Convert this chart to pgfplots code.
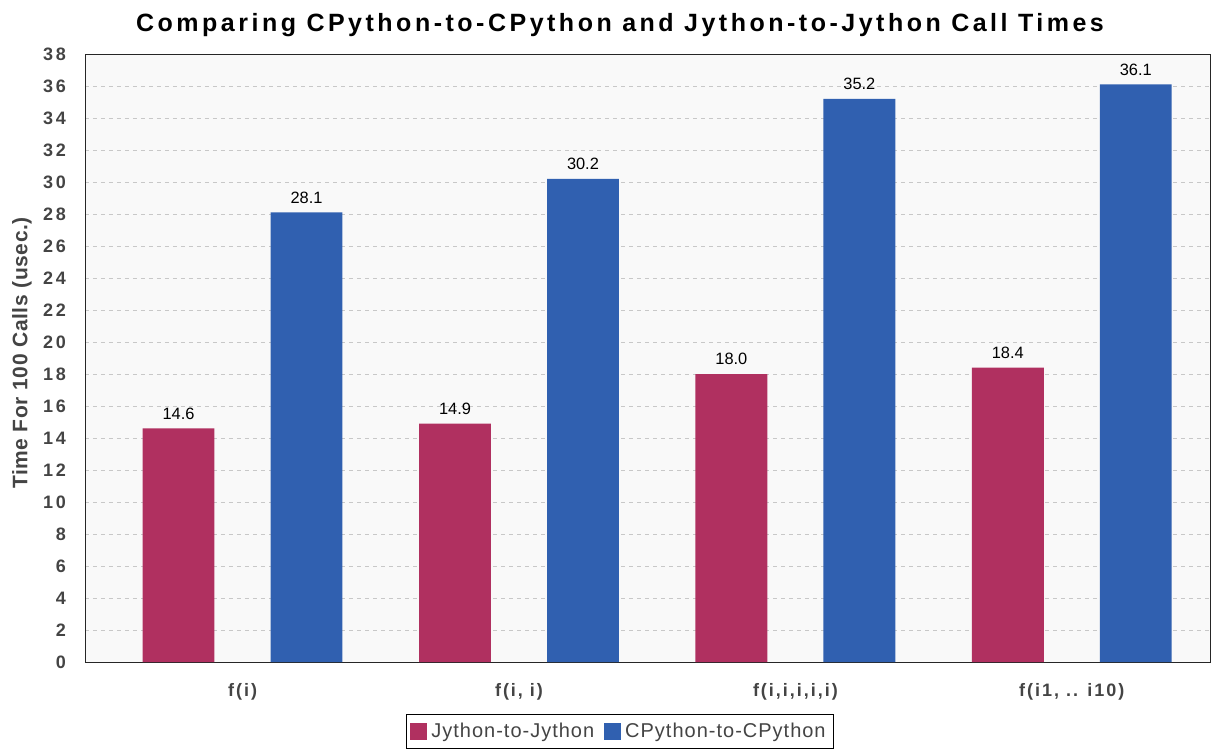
\documentclass[border=0pt]{standalone}
\usepackage{fontspec}
\setmainfont{Liberation Sans}
\newfontfamily\titlesf[LetterSpace=14]{Liberation Sans}
\newfontfamily\ylabsf[LetterSpace=3]{Liberation Sans}
\newfontfamily\ytksf[LetterSpace=16]{Liberation Sans}
\newfontfamily\xtksf[LetterSpace=11]{Liberation Sans}
\newfontfamily\legsf[LetterSpace=5]{Liberation Sans}
\usepackage{pgfplots}
\pgfplotsset{compat=1.18}
\definecolor{jyred}{RGB}{176,48,96}
\definecolor{cpblue}{RGB}{48,96,176}
\definecolor{txtgray}{RGB}{68,68,68}
\definecolor{bggray}{RGB}{249,249,249}
\definecolor{gridgray}{RGB}{200,200,200}

\begin{document}
\begin{tikzpicture}
\useasboundingbox (-42.5pt,-45pt) rectangle (567.5pt,331pt);
\begin{axis}[
    at={(0,0)}, anchor=south west,
    scale only axis, width=562.5pt, height=304pt,
    xmin=-0.57, xmax=3.5, ymin=0, ymax=38,
    ytick={0,2,...,38},
    xtick={0,1,2,3},
    xticklabels={f(i), {f(i, i)}, {f(i,i,i,i,i)}, {f(i1, .. i10)}},
    major tick length=0pt,
    /pgf/number format/assume math mode=true,
    axis background/.style={fill=bggray},
    axis line style={draw=black!85},
    ymajorgrids,
    grid style={gridgray, dash pattern=on 2pt off 2pt},
    yticklabel style={font=\ytksf\bfseries\fontsize{9}{10}\selectfont, text=txtgray, xshift=-6pt},
    xticklabel style={font=\xtksf\bfseries\fontsize{9}{10}\selectfont, text=txtgray, yshift=-7pt},
    ylabel={Time For 100 Calls (usec.)},
    ylabel style={at={([xshift=-31.5pt,yshift=2.5pt]rel axis cs:0,0.5)}, anchor=center,
        font=\ylabsf\bfseries\fontsize{10.5}{12}\selectfont, text=txtgray},
    title={Comparing CPython-to-CPython and Jython-to-Jython Call Times},
    title style={at={([xshift=-13.75pt,yshift=8.5pt]rel axis cs:0.5,1)}, anchor=center,
        font=\titlesf\bfseries\fontsize{12.5}{14}\selectfont},
    ybar, bar width=0.26,
    nodes near coords,
    nodes near coords style={font=\fontsize{8.2}{10}\selectfont, text=black, yshift=1pt,
        /pgf/number format/.cd, fixed, precision=1, fixed zerofill},
    legend columns=2,
    legend style={at={([xshift=-13.75pt,yshift=-34.75pt]rel axis cs:0.5,0)}, anchor=center,
        draw=black, fill=white, font=\legsf\fontsize{10}{12}\selectfont, text=txtgray,
        /tikz/every even column/.append style={column sep=3pt},
        inner sep=2pt},
    legend image code/.code={\fill[#1, draw=none] (0pt,-4.25pt) rectangle (8.5pt,4.25pt);},
]
\addplot[fill=jyred, draw=none, bar shift=-0.2315] coordinates {(0,14.6) (1,14.9) (2,18.0) (3,18.4)};
\addplot[fill=cpblue, draw=none, bar shift=0.2315] coordinates {(0,28.1) (1,30.2) (2,35.2) (3,36.1)};
\legend{Jython-to-Jython, CPython-to-CPython}
% offset y axis with outward ticks
\draw[gray, line width=0.8pt] ([xshift=-4pt]rel axis cs:0,0) -- ([xshift=-4pt]rel axis cs:0,1);
\pgfplotsinvokeforeach{0,2,...,38}{
  \draw[gray, line width=0.6pt] ([xshift=-4pt]axis cs:-0.57,#1) -- ([xshift=-6.5pt]axis cs:-0.57,#1);
}
% offset x axis with category ticks
\draw[gray, line width=0.8pt] ([yshift=-3.5pt]rel axis cs:0,0) -- ([yshift=-3.5pt]rel axis cs:1,0);
\pgfplotsinvokeforeach{0,1,2,3}{
  \draw[gray, line width=0.6pt] ([yshift=-3.5pt]axis cs:#1,0) -- ([yshift=-5pt]axis cs:#1,0);
}
\end{axis}
\end{tikzpicture}
\end{document}
